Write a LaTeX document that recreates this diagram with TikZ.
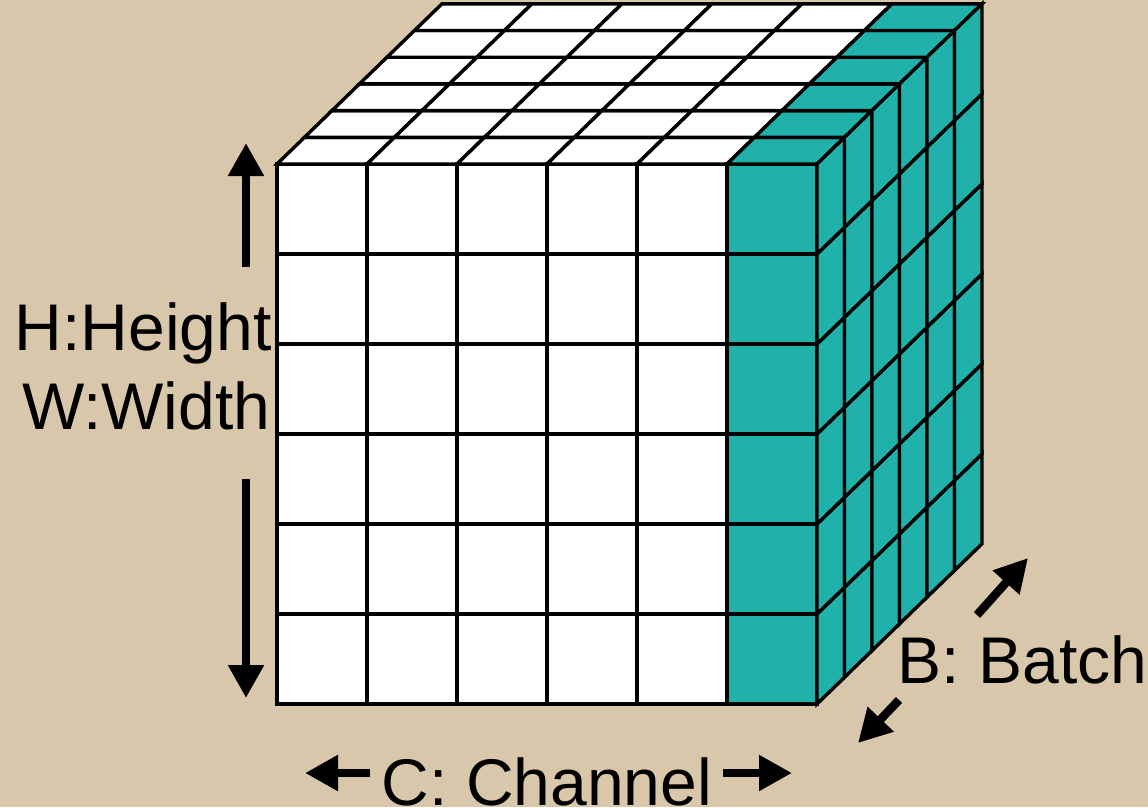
\documentclass[tikz,border=0pt]{standalone}
\usepackage{fontspec}
\setmainfont{Liberation Sans}
\usepackage{tikz}
\usetikzlibrary{arrows.meta}
\definecolor{paper}{RGB}{216,199,171}
\definecolor{seagreen}{RGB}{32,178,170}

\begin{document}
\begin{tikzpicture}[x=1pt,y=-1pt]
  \tikzstyle{cell}=[draw=black,line width=3.4pt,line join=miter]
  \tikzstyle{dimarrow}=[-{Triangle[length=33pt,width=34pt]},line width=8.5pt,black]
  \tikzstyle{dimlabel}=[inner sep=0pt,anchor=base west,font=\fontsize{66}{66}\selectfont]
  \fill[paper] (0,0) rectangle (1148,807);
  \useasboundingbox (0,0) rectangle (1148,807);
  % the block: 6x6 front, 6 layers deep, last channel in green
  \begin{scope}[shift={(277,704)},x={(90pt,0pt)},y={(0pt,90pt)},z={(27.5pt,26.7pt)}]
    \foreach \i in {0,...,5}{
      \ifnum\i<5 \def\cellcol{white}\else\def\cellcol{seagreen}\fi
      \foreach \j in {0,...,5}
        \filldraw[cell,fill=\cellcol] (\i,\j,0) rectangle (\i+1,\j+1,0);
      \foreach \k in {0,...,5}
        \filldraw[cell,fill=\cellcol] (\i,6,\k) -- ++(1,0,0) -- ++(0,0,1) -- ++(-1,0,0) -- cycle;
    }
    \foreach \j in {0,...,5}
      \foreach \k in {0,...,5}
        \filldraw[cell,fill=seagreen] (6,\j,\k) -- ++(0,1,0) -- ++(0,0,1) -- ++(0,-1,0) -- cycle;
  \end{scope}
  % labels
  \node[dimlabel] (height) at (14.7,350) {H:Height};
  \node[dimlabel] (width) at (22,429) {W:Width};
  \node[dimlabel] (batch) at (897.7,683) {B: Batch};
  \node[dimlabel] (channel) at (381.7,805) {C: Channel};
  % arrow ends
  \coordinate (hw-up-from) at (246,267);
  \coordinate (hw-up-to) at (246,143);
  \coordinate (hw-down-from) at (246,479);
  \coordinate (hw-down-to) at (246,698);
  \coordinate (c-left-from) at (370,773);
  \coordinate (c-left-to) at (305,773);
  \coordinate (c-right-from) at (723,773);
  \coordinate (c-right-to) at (792,773);
  \coordinate (b-back-from) at (977,615);
  \coordinate (b-back-to) at (1028,558);
  \coordinate (b-front-from) at (899,700);
  \coordinate (b-front-to) at (858,743);
  \draw[dimarrow] (hw-up-from) -- (hw-up-to);
  \draw[dimarrow] (hw-down-from) -- (hw-down-to);
  \draw[dimarrow] (c-left-from) -- (c-left-to);
  \draw[dimarrow] (c-right-from) -- (c-right-to);
  \draw[dimarrow] (b-back-from) -- (b-back-to);
  \draw[dimarrow] (b-front-from) -- (b-front-to);
\end{tikzpicture}
\end{document}
